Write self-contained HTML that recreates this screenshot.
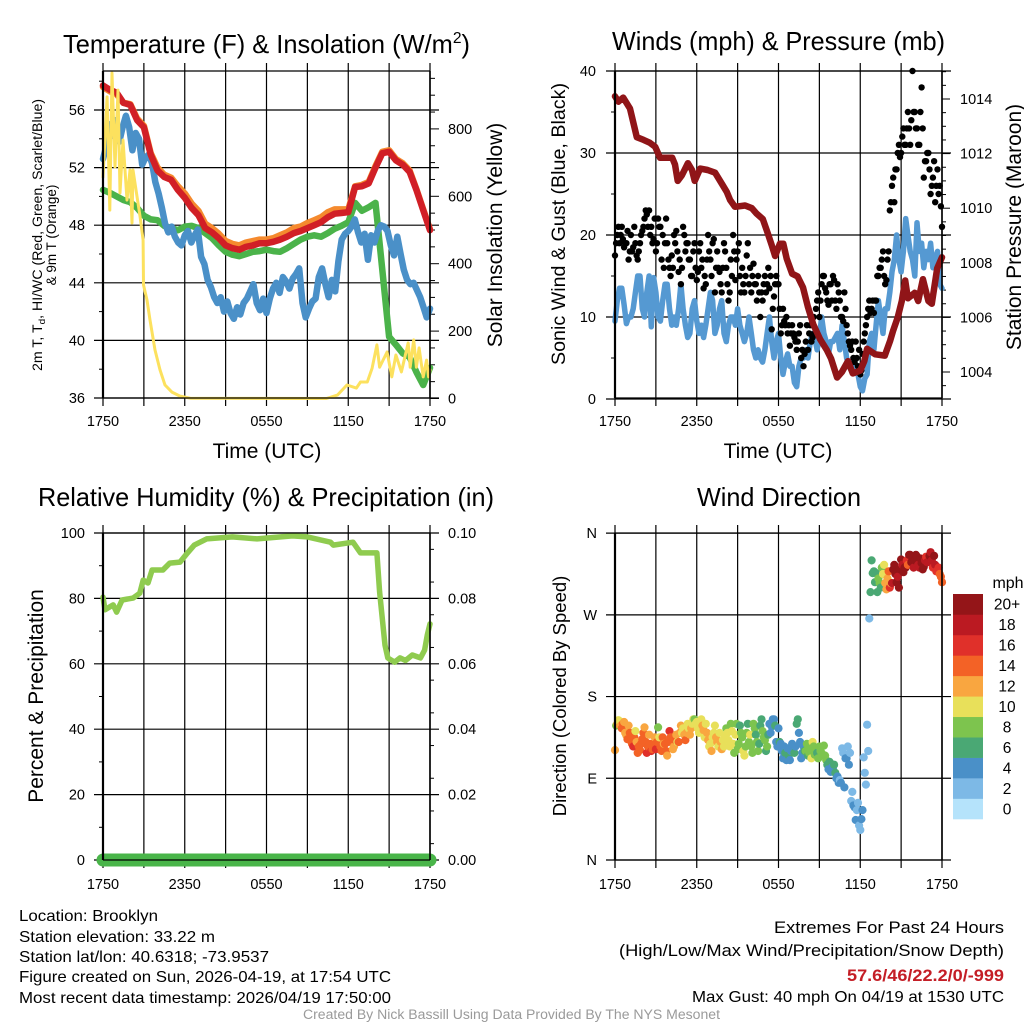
<!DOCTYPE html>
<html lang="en">
<head>
<meta charset="utf-8">
<title>NYS Mesonet Station Meteogram - Brooklyn</title>
<style>
  html, body { margin: 0; padding: 0; background: #fff; }
  svg { display: block; font-family: "Liberation Sans", sans-serif; }
  text { fill: #000; }
</style>
</head>
<body>
<svg id="chart" width="1024" height="1024" viewBox="0 0 1024 1024" xmlns="http://www.w3.org/2000/svg">
  <rect x="0" y="0" width="1024" height="1024" fill="#ffffff"/>

  <g id="panel-tl"></g>
  <g id="panel-tr"></g>
  <g id="panel-bl"></g>
  <g id="panel-br"></g>
  <g id="colorbar"></g>

  <text x="63" y="53" font-size="26" textLength="407" lengthAdjust="spacingAndGlyphs">Temperature (F) &amp; Insolation (W/m<tspan font-size="16" dy="-10">2</tspan><tspan dy="10">)</tspan></text>
  <text x="612" y="50" font-size="26" textLength="333" lengthAdjust="spacingAndGlyphs">Winds (mph) &amp; Pressure (mb)</text>
  <text x="38" y="506" font-size="26" textLength="456" lengthAdjust="spacingAndGlyphs">Relative Humidity (%) &amp; Precipitation (in)</text>
  <text x="697" y="506" font-size="26" textLength="164" lengthAdjust="spacingAndGlyphs">Wind Direction</text>

  <text x="267" y="458" font-size="21" text-anchor="middle">Time (UTC)</text>
  <text x="778" y="458" font-size="21" text-anchor="middle">Time (UTC)</text>

  <text transform="translate(42,235) rotate(-90)" font-size="13.5" text-anchor="middle" textLength="272" lengthAdjust="spacingAndGlyphs">2m T, T<tspan font-size="9.5" dy="3">d</tspan><tspan dy="-3">, HI/WC (Red, Green, Scarlet/Blue)</tspan></text>
  <text transform="translate(56,235) rotate(-90)" font-size="13.5" text-anchor="middle">&amp; 9m T (Orange)</text>
  <text transform="translate(502,235) rotate(-90)" font-size="21" text-anchor="middle">Solar Insolation (Yellow)</text>
  <text transform="translate(565,224) rotate(-90)" font-size="19.5" text-anchor="middle" textLength="282" lengthAdjust="spacingAndGlyphs">Sonic Wind &amp; Gust (Blue, Black)</text>
  <text transform="translate(1021,227) rotate(-90)" font-size="21" text-anchor="middle">Station Pressure (Maroon)</text>
  <text transform="translate(43,696) rotate(-90)" font-size="21" text-anchor="middle">Percent &amp; Precipitation</text>
  <text transform="translate(566,696) rotate(-90)" font-size="18.5" text-anchor="middle">Direction (Colored By Speed)</text>

  <g font-size="16">
    <text x="19" y="921" textLength="139" lengthAdjust="spacingAndGlyphs">Location: Brooklyn</text>
    <text x="19" y="942" textLength="196" lengthAdjust="spacingAndGlyphs">Station elevation: 33.22 m</text>
    <text x="19" y="962" textLength="250" lengthAdjust="spacingAndGlyphs">Station lat/lon: 40.6318; -73.9537</text>
    <text x="19" y="982" textLength="372" lengthAdjust="spacingAndGlyphs">Figure created on Sun, 2026-04-19, at 17:54 UTC</text>
    <text x="19" y="1003" textLength="372" lengthAdjust="spacingAndGlyphs">Most recent data timestamp: 2026/04/19 17:50:00</text>
  </g>
  <g>
    <text x="774" y="933" font-size="17" textLength="230" lengthAdjust="spacingAndGlyphs">Extremes For Past 24 Hours</text>
    <text x="619" y="956" font-size="17" textLength="385" lengthAdjust="spacingAndGlyphs">(High/Low/Max Wind/Precipitation/Snow Depth)</text>
    <text x="847" y="981" font-size="17" font-weight="bold" style="fill:#c41e26" textLength="157" lengthAdjust="spacingAndGlyphs">57.6/46/22.2/0/-999</text>
    <text x="692" y="1002" font-size="16" textLength="312" lengthAdjust="spacingAndGlyphs">Max Gust: 40 mph On 04/19 at 1530 UTC</text>
  </g>
  <text x="303" y="1019" font-size="13.5" style="fill:#9a9a9a" textLength="417" lengthAdjust="spacingAndGlyphs">Created By Nick Bassill Using Data Provided By The NYS Mesonet</text>
</svg>

<script>
// ---- shared axis labels ----
const timeTickLabels = ['1750', '2350', '0550', '1150', '1750'];
const tempTicks = [36, 40, 44, 48, 52, 56];
const solarTicks = [0, 200, 400, 600, 800];
const windTicks = [0, 10, 20, 30, 40];
const pressureTicks = [1004, 1006, 1008, 1010, 1012, 1014];
const humidityTicks = [0, 20, 40, 60, 80, 100];
const precipTicks = ['0.00', '0.02', '0.04', '0.06', '0.08', '0.10'];
const directionTicks = ['N', 'E', 'S', 'W', 'N'];
const speedLabels = ['0', '2', '4', '6', '8', '10', '12', '14', '16', '18', '20+'];
const speedColors = ['#b5e3fb', '#7db9e6', '#4a90c8', '#4aa874', '#7dc44e', '#e8e05a', '#f9a640', '#f36226', '#e0302a', '#bb1a22', '#941518'];

// ---- temperature panel series (half-hourly, deg F) ----
const airTemp = [57.7, 57.4, 57.2, 56.5, 56.35, 55.3, 54.8, 52.9, 51.8, 51.35, 51.15, 50.45, 49.9, 49.2, 48.7, 47.8, 47.5, 47.1, 46.6, 46.4, 46.3, 46.5, 46.6, 46.75, 46.75, 46.85, 47, 47.2, 47.45, 47.6, 47.8, 48, 48.2, 48.55, 48.8, 48.85, 48.9, 50.65, 50.7, 50.9, 52, 53, 53.1, 52.5, 52.2, 51.7, 50.45, 49.05, 47.65];
const nineMeterTemp = [57.6, 57.3, 57.1, 56.5, 56.4, 55.4, 54.9, 53.0, 52.0, 51.5, 51.3, 50.7, 50.2, 49.5, 49.0, 48.1, 47.8, 47.4, 46.9, 46.7, 46.6, 46.8, 46.9, 47.0, 47.0, 47.1, 47.3, 47.5, 47.8, 47.9, 48.15, 48.35, 48.55, 48.9, 49.1, 49.1, 49.1, 50.7, 50.8, 51.0, 52.1, 53.1, 53.2, 52.6, 52.3, 51.8, 50.5, 49.1, 47.7];
const dewPoint = [50.45, 50.25, 50, 49.75, 49.6, 49.2, 48.65, 48.4, 48.35, 47.95, 47.8, 47.65, 47.9, 47.95, 47.8, 47.45, 47.1, 46.6, 46.15, 45.95, 45.85, 46, 46.15, 46.2, 46.3, 46.2, 46.15, 46.4, 46.7, 47, 47.2, 47.3, 47.2, 47.45, 47.75, 47.95, 48.2, 49.55, 49, 49.25, 49.55, 44.9, 40.25, 39.7, 39.1, 38.85, 37.8, 36.9, 38.1];
const windChill = [52.6, 53.5, 55, 54.2, 55.3, 53.8, 54.8, 55.6, 54.8, 53.2, 54.4, 54, 52.2, 52.7, 52.9, 52.3, 51, 50.2, 49.2, 48.1, 47.5, 47.9, 47.2, 46.8, 46.6, 47.3, 47.6, 46.8, 47.3, 47.7, 45.8, 45.3, 44.2, 43.7, 43, 42.6, 43, 42, 42.7, 41.9, 41.5, 42.3, 41.8, 42.6, 42.9, 43.4, 43.9, 42.6, 42.1, 42.9, 41.9, 42.9, 43.6, 44, 43.3, 44.4, 44.1, 43.6, 44.3, 44.6, 45, 42.6, 41.6, 42.2, 42.7, 42.9, 44.4, 45, 43.9, 43, 44.2, 43.4, 45.5, 47, 47.4, 47.6, 47.9, 48.4, 47.5, 46.8, 47.4, 45.6, 47.3, 46.8, 47.6, 48, 47.9, 47.6, 46.6, 45.9, 47.2, 46, 44.9, 44.2, 43.9, 44, 43.5, 43, 42.3, 41.6, 42.2];
const solarHours = [0, 0.3, 0.5, 0.66, 0.88, 1.1, 1.25, 1.47, 1.76, 1.98, 2.13, 2.2, 2.72, 2.94, 2.97, 3.23, 3.45, 3.82, 4.18, 4.55, 5.06, 5.65, 6.4, 16.4, 17.2, 17.9, 18.6, 18.9, 19.4, 19.75, 20.1, 20.3, 20.85, 21.2, 21.5, 21.9, 22.4, 22.55, 22.8, 23, 23.2, 23.5, 23.75, 23.9, 24];
const solarValues = [657, 895, 559, 966, 687, 915, 610, 767, 589, 678, 521, 678, 539, 470, 337, 292, 233, 144, 85, 40, 19, 7, 1, 0, 10, 40, 31, 49, 49, 90, 159, 93, 138, 64, 129, 79, 165, 93, 174, 93, 150, 64, 114, 64, 85];

// ---- winds panel series (mph) ----
const sonicWind = [
  9.5, 12, 13.5, 13.5, 11.5, 9.2,  10, 10, 11, 13, 15, 15,      11, 10, 13, 15, 8.8, 14.8,
  13, 10, 9.5, 12, 14, 14,         11, 9, 10, 9, 11, 14,        11, 9, 7.5, 8, 11, 12,
  9.5, 8, 9, 7.5, 9, 11,           13, 12, 8, 9, 11, 12,        8, 7, 9, 10, 10, 9,
  11, 9, 8, 7, 8, 10,              8, 6, 5, 6, 5, 4.5,          6, 8, 10, 7, 5, 7,
  8, 5, 3, 4.5, 5.5, 4,            4, 2, 1.5, 4, 5, 5,          6, 5, 7, 8, 7.5, 6,
  7.5, 10, 8, 7, 5.5, 7,           7, 7.5, 8, 6, 9, 7,          5, 4, 3.5, 5, 4, 3,
  1.5, 1, 2.5, 3, 7, 8,            6, 9, 12, 10, 8, 11,         11, 13, 15.5, 17, 20, 17,
  15.5, 18, 22, 20, 18, 17,        15, 21.5, 18, 19, 16, 18,    17, 19, 16, 17, 18, 14,  13.5];
const windGust = [
  17.5, 19, 20, 21, 19, 20, 21, 19.5, 18.5, 19, 19, 20.5,
  17, 18, 20, 18, 18.5, 21, 19, 17.5, 17, 18, 19, 20,
  20.5, 21, 22, 23, 22.5, 21, 23, 20, 21, 19, 19.5, 22,
  18, 19, 22, 21, 21, 17, 20, 16, 19, 22, 19, 17,
  16, 15, 17.5, 16, 20, 19, 20.5, 18, 15.5, 17, 14, 16,
  21, 20, 18, 19, 19, 17, 17, 15, 15, 18, 19, 16,
  14.5, 15.5, 18, 19, 16, 17, 13.5, 15, 14, 17, 20, 18,
  17, 15, 19, 19.5, 13, 16, 18, 16, 15.5, 14, 13, 16,
  19, 18, 16, 14, 12, 13, 17, 15, 20, 18, 14.5, 17,
  18, 19, 15, 13, 16, 14, 13, 15, 17.5, 19, 14, 16,
  13, 15, 16.5, 14, 14, 12, 15, 13, 10, 13, 12, 14,
  15, 13, 14, 16, 13.5, 15, 8.5, 11, 12.5, 14, 15, 14,
  14, 11, 8, 9, 11, 9.5, 9, 10, 8, 9, 6.5, 8,
  9, 8, 7.5, 7, 6, 7, 8, 9, 5, 6, 4, 5.5,
  7, 9, 6, 8, 9, 7, 7.5, 10, 8, 11, 12, 13,
  10, 12, 14, 15, 15, 13.5, 13, 12, 11.5, 14, 14, 12,
  15, 14.5, 12, 11, 14, 13, 12, 10, 10, 9.5, 13, 11,
  9, 8, 7, 6.5, 6, 7, 5, 4.5, 7, 5, 4, 6,
  3, 3.5, 5.5, 7, 8, 9, 10, 11, 12, 10.5, 11, 12,
  10.5, 12, 12, 15, 15, 16, 16, 17, 18, 15, 14, 14.5,
  17, 18, 23, 24, 26, 27, 24, 28, 28, 30, 31, 29.5,
  30, 32, 33, 31, 31, 33, 35, 33, 31, 34, 40, 35,
  35, 33, 33, 31, 31, 35, 38, 33, 27, 29, 29, 30,
  30, 28, 25, 26, 27, 29, 24, 26, 28, 25, 26, 23.5, 21];
const pressureHours = [0, 0.25, 0.6, 1.1, 1.6, 2.1, 2.55, 2.95, 3.3, 3.65, 4.2, 4.4, 4.6, 4.9, 5.35, 5.65, 5.85, 6.25, 6.8, 7.35, 7.9, 8.2, 8.45, 8.8, 9.55, 10.05, 10.4, 10.85, 11.2, 11.5, 11.75, 12.1, 12.35, 12.6, 13, 13.4, 13.8, 14.15, 14.55, 15.05, 15.55, 15.85, 16.3, 16.65, 17.1, 17.45, 18, 18.3, 18.5, 19.1, 19.8, 20.2, 20.4, 20.75, 21.05, 21.3, 21.5, 22, 22.25, 22.6, 23, 23.25, 23.65, 24];
const pressureValues = [1014.1, 1013.9, 1014.05, 1013.65, 1012.6, 1012.5, 1012.4, 1012.25, 1011.85, 1011.85, 1011.85, 1011.6, 1011, 1011.2, 1011.65, 1011.4, 1011, 1011.45, 1011.4, 1011.3, 1010.85, 1010.6, 1010.3, 1010.05, 1010.1, 1010, 1009.8, 1009.6, 1009.1, 1008.65, 1008.25, 1008.7, 1008.7, 1008.15, 1007.6, 1007.5, 1007.1, 1006.4, 1005.75, 1005.2, 1004.8, 1004.5, 1003.8, 1004, 1004.4, 1003.95, 1004.05, 1004.4, 1004.85, 1004.65, 1004.6, 1005.15, 1005.5, 1006, 1006.6, 1007.35, 1006.7, 1006.9, 1006.6, 1007.4, 1006.6, 1006.5, 1007.8, 1008.2];

// ---- humidity panel series ----
const humidityHours = [0, 0.15, 0.5, 0.75, 1, 1.4, 2.2, 2.7, 2.95, 3.3, 3.6, 4.4, 4.9, 5.65, 6.2, 6.7, 7.6, 9.5, 11.3, 13.9, 15, 16.7, 16.9, 18.35, 18.9, 20.1, 20.3, 20.7, 20.9, 21.4, 21.8, 22.2, 22.7, 23.3, 23.6, 23.8, 24];
const humidityValues = [80.4, 76.5, 77.4, 78, 75.8, 79.5, 80.1, 81.6, 85.6, 84.7, 88.7, 88.7, 90.8, 91.1, 93.9, 96.3, 98.2, 98.8, 98.2, 99.1, 98.8, 97.2, 96.3, 97.2, 93.9, 93.9, 82, 65.7, 61.8, 60.5, 61.8, 61, 62.7, 61.8, 64.2, 68.8, 72.2];
const precipValues = [0, 0, 0, 0, 0, 0, 0, 0, 0, 0, 0, 0, 0, 0, 0, 0, 0, 0, 0, 0, 0, 0, 0, 0, 0];

// ---- wind direction series (5-minute, degrees and mph) ----
const windDirection = [
  121, 148, 150, 154, 153, 148, 145, 150, 152, 140, 137, 133,
  148, 140, 131, 128, 125, 135, 142, 130, 118, 125, 121, 128,
  133, 140, 146, 130, 118, 125, 138, 128, 120, 122, 128, 135,
  122, 130, 146, 135, 125, 120, 135, 128, 128, 120, 115, 130,
  142, 135, 130, 122, 125, 132, 138, 130, 130, 140, 148, 140,
  145, 138, 132, 140, 150, 145, 138, 145, 150, 155, 155, 150,
  152, 145, 140, 148, 155, 148, 143, 135, 150, 140, 132, 125,
  128, 120, 135, 140, 148, 135, 130, 125, 140, 130, 122, 132,
  125, 135, 145, 140, 132, 125, 150, 142, 128, 118, 138, 150,
  122, 128, 148, 140, 135, 120, 115, 125, 140, 150, 130, 138,
  125, 118, 150, 145, 138, 130, 120, 128, 148, 155, 142, 135,
  132, 120, 125, 138, 150, 140, 147, 155, 155, 148, 130, 125,
  145, 130, 128, 120, 112, 125, 118, 110, 123, 115, 110, 120,
  128, 120, 118, 125, 150, 155, 140, 130, 112, 118, 125, 120,
  120, 128, 115, 118, 122, 112, 130, 125, 116, 122, 118, 112,
  125, 120, 118, 115, 126, 115, 110, 105, 100, 108, 97, 102,
  100, 105, 96, 90, 92, 85, 88, 85, 123, 118, 80, 112,
  112, 125, 105, 118, 65, 75, 60, 58, 44, 55, 63, 38,
  33, 45, 55, 113, 96, 83, 149, 120, 266, 295, 330, 316,
  318, 306, 316, 295, 310, 305, 300, 322, 315, 325, 305, 298,
  310, 318, 300, 305, 305, 320, 325, 315, 306, 312, 300, 320,
  331, 325, 317, 322, 322, 330, 325, 336, 336, 328, 328, 322,
  330, 336, 334, 325, 322, 332, 327, 320, 323, 330, 334, 328,
  328, 335, 339, 330, 322, 335, 325, 318, 319, 322, 315, 312, 306];
const directionSpeed = [
  12, 8, 12, 10, 10, 12, 13, 14, 12, 12, 12, 13,
  12, 13, 14, 14, 15, 14, 10, 12, 13, 14, 14, 13,
  14, 13, 12, 14, 15, 13, 12, 13, 15, 14, 13, 12,
  15, 14, 8, 10, 14, 13, 14, 12, 14, 13, 12, 14,
  15, 13, 14, 12, 12, 13, 12, 10, 13, 12, 12, 10,
  10, 12, 13, 11, 10, 10, 12, 11, 10, 9, 8, 10,
  9, 10, 10, 9, 10, 11, 12, 10, 10, 12, 11, 10,
  10, 12, 10, 10, 10, 11, 12, 10, 10, 11, 12, 10,
  10, 10, 8, 9, 10, 10, 8, 9, 10, 8, 9, 8,
  8, 7, 6, 8, 8, 10, 10, 8, 8, 6, 8, 9,
  8, 7, 8, 8, 6, 7, 8, 6, 5, 6, 7, 8,
  8, 6, 8, 5, 4, 4, 4, 3, 3, 5, 4, 3,
  4, 5, 3, 4, 4, 3, 5, 4, 4, 5, 4, 3,
  3, 4, 5, 4, 5, 6, 4, 3, 3, 4, 4, 5,
  7, 8, 6, 8, 8, 9, 9, 8, 8, 7, 6, 7,
  7, 8, 8, 8, 8, 7, 7, 6, 4, 5, 4, 4,
  4, 5, 5, 4, 3, 4, 2, 3, 2, 1, 4, 3,
  4, 2, 3, 2, 2, 1, 4, 3, 3, 2, 2, 2,
  2, 3, 3, 1, 1, 2, 1, 1, 2, 6, 6, 6,
  6, 6, 6, 6, 8, 8, 6, 8, 10, 10, 12, 12,
  12, 14, 16, 12, 18, 20, 21, 20, 22, 18, 20, 21,
  20, 18, 21, 22, 21, 16, 14, 20, 21, 22, 20, 18,
  20, 21, 22, 18, 18, 20, 22, 21, 20, 18, 16, 18,
  18, 20, 17, 18, 16, 20, 18, 16, 15, 16, 14, 14, 14];

// ---- drawing ----
const SVG_NS = 'http://www.w3.org/2000/svg';
const PLOT_W = 327;
const PLOT_H = 327;

function seg(parent, x1, y1, x2, y2, w, name) {
  const el = document.createElementNS(SVG_NS, 'line');
  el.setAttribute('x1', x1);
  el.setAttribute('y1', y1);
  el.setAttribute('x2', x2);
  el.setAttribute('y2', y2);
  el.setAttribute('stroke', '#000');
  el.setAttribute('stroke-width', w);
  
  
  parent.appendChild(el);
}

function label(parent, x, y, str, anchor, name) {
  const el = document.createElementNS(SVG_NS, 'text');
  el.setAttribute('x', x);
  el.setAttribute('y', y);
  el.setAttribute('font-size', '14.5');
  el.setAttribute('text-anchor', anchor);
  el.textContent = str;
  
  
  parent.appendChild(el);
}

function curve(parent, xs, ys, color, width, name) {
  const el = document.createElementNS(SVG_NS, 'path');
  let d = '';
  for (let i = 0; i < xs.length; i++) {
    d += (i ? 'L' : 'M') + xs[i].toFixed(1) + ' ' + ys[i].toFixed(1);
  }
  el.setAttribute('d', d);
  el.setAttribute('fill', 'none');
  el.setAttribute('stroke', color);
  el.setAttribute('stroke-width', width);
  el.setAttribute('stroke-linejoin', 'round');
  el.setAttribute('stroke-linecap', 'round');
  
  
  parent.appendChild(el);
}

function dot(parent, cx, cy, r, color, name) {
  const el = document.createElementNS(SVG_NS, 'circle');
  el.setAttribute('cx', cx.toFixed(1));
  el.setAttribute('cy', cy.toFixed(1));
  el.setAttribute('r', r);
  el.setAttribute('fill', color);
  
  
  parent.appendChild(el);
}

function hourScale(left) {
  return function (h) { return left + h / 24 * PLOT_W; };
}
function evenHours(values) {
  return values.map(function (v, i) { return i / (values.length - 1) * 24; });
}

// vertical grid lines every 3 hours with tick stubs above and below
function timeGrid(g, left, top, labelY) {
  const x = hourScale(left);
  for (let h = 0; h <= 24; h += 3) {
    seg(g, x(h), top - 8, x(h), top + PLOT_H + 8, 1.2, 'time-grid-line');
  }
  timeTickLabels.forEach(function (t, i) {
    label(g, x(i * 6), labelY, t, 'middle', 'time-tick-label');
  });
}
function horizontalGrid(g, left, y) {
  seg(g, left - 9, y, left + PLOT_W + 9, y, 1.2, 'value-grid-line');
}
function frame(g, left, top) {
  seg(g, left, top, left, top + PLOT_H, 2.2, 'left-axis-line');
  seg(g, left + PLOT_W, top, left + PLOT_W, top + PLOT_H, 1.6, 'right-axis-line');
  seg(g, left, top, left + PLOT_W, top, 1.2, 'top-axis-line');
  seg(g, left, top + PLOT_H, left + PLOT_W, top + PLOT_H, 1.2, 'bottom-axis-line');
}
function minorTick(g, x, y, len, name) {
  seg(g, x, y, x + len, y, 1, name);
}

// -------- temperature panel --------
(function () {
  const g = document.getElementById('panel-tl');
  const left = 103, top = 71;
  const x = hourScale(left);
  const yT = function (t) { return 398 - (t - 36) * 14.4; };
  const yS = function (w) { return 398.5 - w * 0.337; };

  timeGrid(g, left, top, 426);
  tempTicks.forEach(function (t) {
    horizontalGrid(g, left, yT(t));
    label(g, 85, yT(t) + 5, String(t), 'end', 'temperature-tick-label');
  });
  for (let t = 38; t <= 58; t += 4) {
    minorTick(g, left - 4, yT(t), 4, 'temperature-minor-tick');
  }
  solarTicks.forEach(function (w) {
    seg(g, left + PLOT_W, yS(w), left + PLOT_W + 9, yS(w), 1, 'solar-major-tick');
    label(g, 448, yS(w) + 5, String(w), 'start', 'solar-tick-label');
  });
  for (let w = 50; w <= 950; w += 50) {
    if (w % 200) minorTick(g, left + PLOT_W, yS(w), 5, 'solar-minor-tick');
  }

  curve(g, evenHours(nineMeterTemp).map(x), nineMeterTemp.map(yT), '#f58a2e', 6.5, 'nine-meter-temperature-line');
  curve(g, evenHours(dewPoint).map(x), dewPoint.map(yT), '#4bb34a', 6.5, 'dew-point-line');
  curve(g, evenHours(windChill).map(x), windChill.map(yT), '#4a90c8', 6.5, 'wind-chill-line');
  curve(g, evenHours(airTemp).map(x), airTemp.map(yT), '#d11f26', 6.5, 'air-temperature-line');
  curve(g, solarHours.map(x), solarValues.map(yS), '#fce15e', 3, 'solar-insolation-line');
  frame(g, left, top);
})();

// -------- winds panel --------
(function () {
  const g = document.getElementById('panel-tr');
  const left = 615, top = 71;
  const x = hourScale(left);
  const yW = function (v) { return 399 - v * 8.2; };
  const yP = function (p) { return 372 - (p - 1004) * 27.3; };

  timeGrid(g, left, top, 426);
  windTicks.forEach(function (v) {
    horizontalGrid(g, left, yW(v));
    label(g, 596, yW(v) + 5, String(v), 'end', 'wind-tick-label');
  });
  for (let v = 5; v <= 35; v += 10) {
    minorTick(g, left - 4, yW(v), 4, 'wind-minor-tick');
  }
  pressureTicks.forEach(function (p) {
    seg(g, left + PLOT_W, yP(p), left + PLOT_W + 8, yP(p), 1, 'pressure-major-tick');
    label(g, 960, yP(p) + 5, String(p), 'start', 'pressure-tick-label');
  });
  for (let p = 1003.5; p <= 1015; p += 0.5) {
    if (p % 2 && yP(p) > top && yP(p) < top + PLOT_H) minorTick(g, left + PLOT_W, yP(p), 4, 'pressure-minor-tick');
  }

  curve(g, evenHours(sonicWind).map(x), sonicWind.map(yW), '#5599d2', 5.5, 'sonic-wind-line');
  evenHours(windGust).forEach(function (h, i) {
    dot(g, x(h), yW(windGust[i]), 3.2, '#000000', 'wind-gust-point');
  });
  curve(g, pressureHours.map(x), pressureValues.map(yP), '#901518', 6.5, 'pressure-line');
  frame(g, left, top);
})();

// -------- humidity panel --------
(function () {
  const g = document.getElementById('panel-bl');
  const left = 103, top = 533;
  const x = hourScale(left);
  const yH = function (v) { return 860 - v * 3.27; };
  const yR = function (v) { return 860 - v * 3270; };

  timeGrid(g, left, top, 889);
  humidityTicks.forEach(function (v) {
    horizontalGrid(g, left, yH(v));
    label(g, 85, yH(v) + 5, String(v), 'end', 'humidity-tick-label');
  });
  for (let v = 10; v <= 90; v += 20) {
    minorTick(g, left - 4, yH(v), 4, 'humidity-minor-tick');
  }
  precipTicks.forEach(function (t) {
    label(g, 448, yR(Number(t)) + 5, t, 'start', 'precipitation-tick-label');
  });
  for (let v = 5; v < 100; v += 10) {
    minorTick(g, left + PLOT_W, yH(v), 4, 'precipitation-minor-tick');
  }

  curve(g, humidityHours.map(x), humidityValues.map(yH), '#8fcb4f', 5.5, 'relative-humidity-line');
  curve(g, evenHours(precipValues).map(x), precipValues.map(yR), '#49b549', 13, 'precipitation-line');
  frame(g, left, top);
})();

// -------- wind direction panel --------
(function () {
  const g = document.getElementById('panel-br');
  const left = 615, top = 533;
  const x = hourScale(left);
  const yD = function (deg) { return 860 - deg * 0.908; };
  const colorFor = function (s) {
    return speedColors[Math.min(10, Math.floor((s + 1) / 2))];
  };

  timeGrid(g, left, top, 889);
  directionTicks.forEach(function (t, i) {
    horizontalGrid(g, left, yD(i * 90));
    label(g, 597, yD(i * 90) + 5, t, 'end', 'direction-tick-label');
  });
  evenHours(windDirection).forEach(function (h, i) {
    dot(g, x(h), yD(windDirection[i]), 4.1, colorFor(directionSpeed[i]), 'wind-direction-point');
  });
  frame(g, left, top);
})();

// -------- colorbar --------
(function () {
  const g = document.getElementById('colorbar');
  const barTop = 594, barH = 225 / 11;
  const mph = document.createElementNS(SVG_NS, 'text');
  mph.setAttribute('x', '1008');
  mph.setAttribute('y', '588');
  mph.setAttribute('font-size', '16');
  mph.setAttribute('text-anchor', 'middle');
  mph.textContent = 'mph';
  
  
  g.appendChild(mph);
  for (let i = 0; i < speedColors.length; i++) {
    const row = speedColors.length - 1 - i;
    const r = document.createElementNS(SVG_NS, 'rect');
    r.setAttribute('x', 953);
    r.setAttribute('y', barTop + row * barH);
    r.setAttribute('width', 30);
    r.setAttribute('height', barH + 0.3);
    r.setAttribute('fill', speedColors[i]);
    
    
    g.appendChild(r);
    const t = document.createElementNS(SVG_NS, 'text');
    t.setAttribute('x', 1007);
    t.setAttribute('y', barTop + row * barH + barH / 2 + 5.5);
    t.setAttribute('font-size', '15.5');
    t.setAttribute('text-anchor', 'middle');
    t.textContent = speedLabels[i];
    
    
    g.appendChild(t);
  }
})();
</script>
</body>
</html>
